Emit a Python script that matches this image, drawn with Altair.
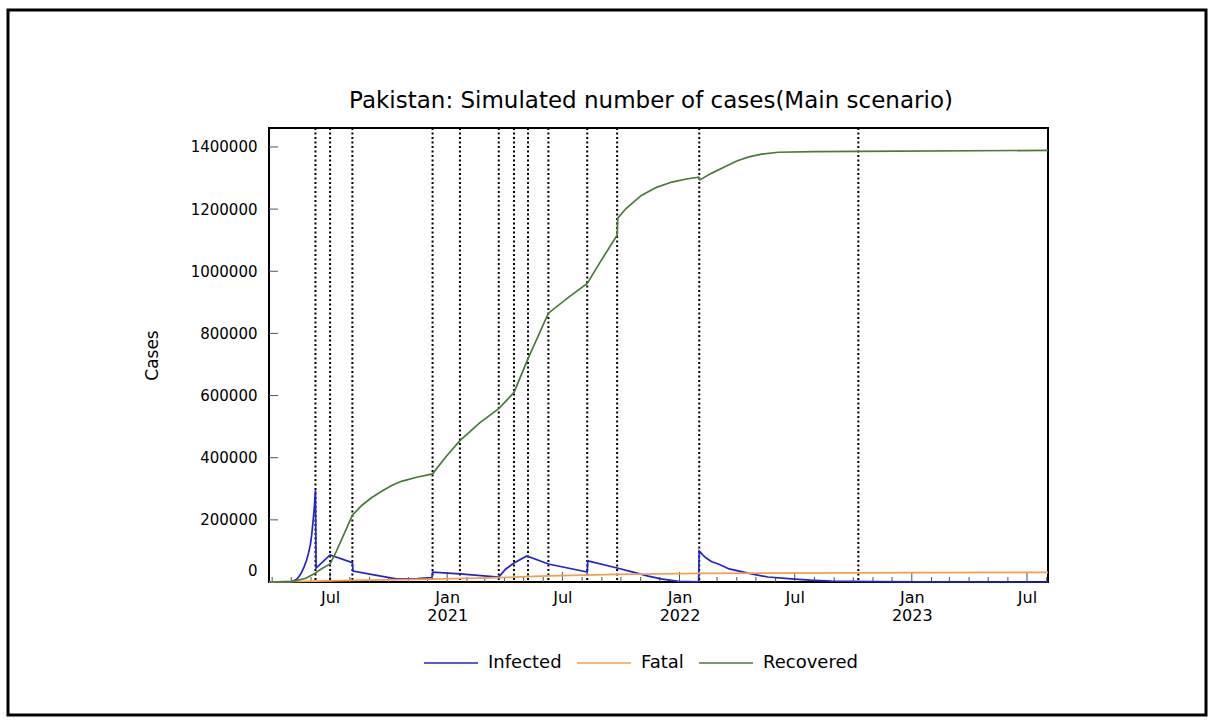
import altair as alt
import pandas as pd

# ---- simulated series (date, cases) ----
infected_dates = [
    "2020-03-27", "2020-05-01", "2020-05-09", "2020-05-13", "2020-05-17", "2020-05-21",
    "2020-05-25", "2020-05-28", "2020-05-31", "2020-06-02", "2020-06-04", "2020-06-06",
    "2020-06-08", "2020-06-09", "2020-07-01", "2020-08-05", "2020-08-06",
    "2020-09-10", "2020-10-13", "2020-11-15", "2020-12-08", "2020-12-09", "2021-01-21",
    "2021-03-23", "2021-04-03", "2021-04-16", "2021-05-06", "2021-06-09", "2021-08-09",
    "2021-08-10", "2021-09-25", "2021-10-20", "2021-11-13", "2021-12-03", "2021-12-30",
    "2022-01-31", "2022-02-01", "2022-02-06", "2022-02-12", "2022-02-20", "2022-03-03",
    "2022-03-20", "2022-04-24", "2022-05-20", "2022-06-26", "2022-07-25",
    "2022-08-28", "2022-10-30", "2023-01-15", "2023-08-03",
]
infected_values = [
    0, 500, 8000, 17000, 30000, 48000,
    70000, 92000, 120000, 150000, 190000, 235000,
    295000, 45000, 87000, 62000, 35000,
    22000, 10000, 11000, 14000, 32000, 26000,
    16000, 42000, 61000, 84000, 58000, 32000,
    68000, 45000, 32000, 19000, 10000, 2000,
    500, 100000, 88000, 77000, 66000, 58000,
    42000, 26000, 16000, 10000, 6000,
    3000, 1000, 200, 0,
]

fatal_dates = [
    "2020-03-27", "2020-06-08", "2020-08-05", "2020-12-09", "2021-03-23",
    "2021-06-09", "2021-09-25", "2022-02-01", "2022-10-09", "2023-08-03",
]
fatal_values = [0, 2500, 5500, 9000, 14000, 19500, 24500, 27500, 29500, 31000]

recovered_dates = [
    "2020-03-27", "2020-05-04", "2020-05-24", "2020-06-08", "2020-06-17", "2020-07-01",
    "2020-07-10", "2020-07-22", "2020-08-05", "2020-08-20", "2020-09-04", "2020-09-20",
    "2020-10-05", "2020-10-21", "2020-11-14", "2020-12-09", "2020-12-30", "2021-01-21",
    "2021-02-21", "2021-03-23", "2021-04-16", "2021-05-08", "2021-06-09", "2021-07-10",
    "2021-08-09", "2021-08-31", "2021-09-25", "2021-09-26", "2021-10-09", "2021-11-02",
    "2021-11-26", "2021-12-20", "2022-01-12", "2022-01-31", "2022-02-02", "2022-02-20",
    "2022-03-10", "2022-04-01", "2022-04-20", "2022-05-10", "2022-06-05", "2022-08-01",
    "2022-10-09", "2023-08-03",
]
recovered_values = [
    0, 2000, 12000, 29000, 42000, 58000,
    95000, 150000, 215000, 247000, 271000, 292000,
    310000, 324000, 337000, 348000, 403000, 455000,
    512000, 558000, 610000, 719000, 865000, 915000,
    961000, 1035000, 1116000, 1171000, 1202000, 1244000,
    1270000, 1287000, 1297000, 1303000, 1294000, 1315000,
    1333000, 1355000, 1368000, 1377000, 1383000, 1385000,
    1386000, 1389000,
]

# phase change dates (dotted vertical lines)
change_dates = [
    "2020-06-08", "2020-07-01", "2020-08-05", "2020-12-09", "2021-01-21",
    "2021-03-23", "2021-04-16", "2021-05-08", "2021-06-09", "2021-08-09",
    "2021-09-25", "2022-02-01", "2022-10-09",
]

series_names = ["Infected", "Fatal", "Recovered"]
series_colors = ["#2323d3", "#f5a04c", "#4a7a3a"]

y_ticks = [0, 200000, 400000, 600000, 800000, 1000000, 1200000, 1400000]
x_start, x_end = "2020-03-27T00:00:00", "2023-08-03T00:00:00"

TITLE = "Pakistan: Simulated number of cases(Main scenario)"

W, H = 779, 454
FONT = "DejaVu Sans"


def frame(dates, values, name):
    return pd.DataFrame({
        "date": [d + "T00:00:00" for d in dates],
        "cases": values,
        "series": name,
    })


df = pd.concat([
    frame(infected_dates, infected_values, "Infected"),
    frame(fatal_dates, fatal_values, "Fatal"),
    frame(recovered_dates, recovered_values, "Recovered"),
], ignore_index=True)

changes = pd.DataFrame({"date": [d + "T00:00:00" for d in change_dates]})

months = pd.date_range("2020-04-01", "2023-08-01", freq="MS")
minor = pd.DataFrame({"date": [m.strftime("%Y-%m-%dT00:00:00") for m in months if m.month not in (1, 7)]})
major = pd.DataFrame({"date": [m.strftime("%Y-%m-%dT00:00:00") for m in months if m.month in (1, 7)]})
yt = pd.DataFrame({"cases": y_ticks})

x_scale = alt.Scale(domain=[x_start, x_end], nice=False)
y_scale = alt.Scale(domain=[0, 1461000], nice=False, zero=True)

x_axis = alt.Axis(
    values=[alt.DateTime(year=int(d[:4]), month=int(d[5:7]), date=1) for d in major["date"]],
    labelExpr="month(datum.value) == 0 ? [timeFormat(datum.value, '%b'), timeFormat(datum.value, '%Y')] : timeFormat(datum.value, '%b')",
    ticks=False, tickSize=0, domain=False, grid=False, title="",
    labelPadding=7, labelFontSize=16, labelLineHeight=18, labelColor="black",
    labelFont=FONT, labelFlush=False,
)
y_axis = alt.Axis(
    values=y_ticks, format="d", ticks=False, tickSize=0, domain=False, grid=False,
    title="Cases", titleFont=FONT, titleFontSize=17, titleFontWeight="normal",
    titleColor="black", titlePadding=29,
    labelPadding=12, labelFontSize=15, labelColor="black", labelFont=FONT,
    labelFlush=True, labelFlushOffset=-4,
)

x_enc = alt.X("date:T", scale=x_scale, axis=x_axis)
y_enc = alt.Y("cases:Q", scale=y_scale, axis=y_axis)

lines = alt.Chart(df).mark_line(strokeWidth=1.7).encode(
    x=x_enc,
    y=y_enc,
    color=alt.Color(
        "series:N",
        scale=alt.Scale(domain=series_names, range=series_colors),
        sort=series_names,
        legend=alt.Legend(
            title=None, orient="none", direction="horizontal",
            legendX=154, legendY=507,
            symbolType="stroke", symbolSize=2916, symbolStrokeWidth=1.6,
            labelFont=FONT, labelFontSize=18, labelColor="black",
            labelOffset=9, columnPadding=11,
        ),
    ),
    order=alt.Order("series_order:Q"),
).transform_calculate(
    series_order="datum.series == 'Infected' ? 0 : datum.series == 'Fatal' ? 1 : 2"
)

vlines = alt.Chart(changes).mark_rule(
    color="black", strokeWidth=2, strokeDash=[2, 2.5]
).encode(x=x_enc)

minor_ticks = alt.Chart(minor).mark_rule(color="#555555", strokeWidth=1).encode(
    x=x_enc, y=alt.value(H), y2=alt.value(H - 5)
)
major_ticks = alt.Chart(major).mark_rule(color="#555555", strokeWidth=1).encode(
    x=x_enc, y=alt.value(H), y2=alt.value(H - 10)
)
y_tick_marks = alt.Chart(yt).mark_rule(color="#555555", strokeWidth=1).encode(
    y=y_enc, x=alt.value(0), x2=alt.value(9)
)

# chart title, placed above the plot frame
title_text = alt.Chart(pd.DataFrame({"t": [TITLE]})).mark_text(
    font=FONT, fontSize=23, color="black", align="center", baseline="alphabetic"
).encode(text="t:N", x=alt.value(382), y=alt.value(-20))

# black frame of the plot area
plot_frame = alt.Chart(pd.DataFrame({"k": [0]})).mark_rect(
    fillOpacity=0, stroke="black", strokeWidth=2
).encode(x=alt.value(0), x2=alt.value(W), y=alt.value(0), y2=alt.value(H))

# frame around the whole figure
border = alt.Chart(pd.DataFrame({"k": [0]})).mark_rect(
    fillOpacity=0, stroke="black", strokeWidth=3
).encode(
    x=alt.value(-261), x2=alt.value(937), y=alt.value(-118), y2=alt.value(587)
)

chart = alt.layer(
    plot_frame, minor_ticks, major_ticks, y_tick_marks, vlines, lines, title_text, border
).properties(
    width=W, height=H,
    padding={"left": 6, "top": 8, "right": 0, "bottom": 0},
).configure_view(
    stroke="black", strokeWidth=1.8
).configure(background="white")

chart.save("out.html", embed_options={"renderer": "svg", "actions": False})
